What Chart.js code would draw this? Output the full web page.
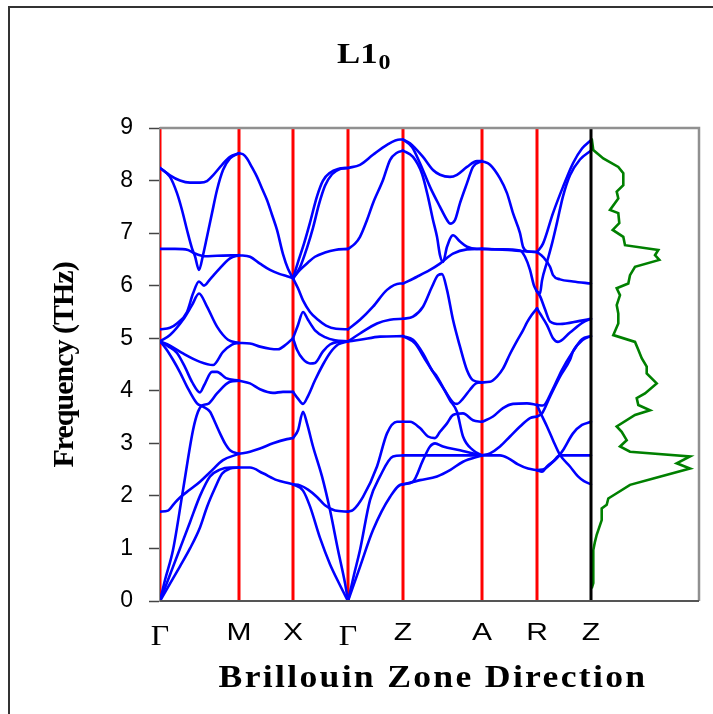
<!DOCTYPE html>
<html>
<head>
<meta charset="utf-8">
<script src="https://cdn.jsdelivr.net/npm/chart.js@4.4.0/dist/chart.umd.min.js"></script>
<style>
  html, body { margin: 0; padding: 0; background: #fff; }
  #wrap { width: 713px; height: 714px; position: relative; }
</style>
</head>
<body>
<div id="wrap"><canvas id="bands"></canvas></div>
<script>
// high-symmetry points along the path (path length units) and their labels
const kPoints = [0, 79, 133, 188, 243, 322, 377, 431];
const kLabels = ["Γ", "M", "X", "Γ", "Z", "A", "R", "Z"];
const kEnd = 539;

// phonon branches, one polyline per branch per segment: [k, THz]
const gammaM = [
  [[0,8.24],[10,8.10],[20,8.0],[30,7.96],[40,7.96],[47,7.99],[53,8.1],[62,8.3],[70,8.45],[79,8.52]],
  [[0,8.24],[10,8.07],[17,7.76],[22,7.44],[27,7.06],[32,6.71],[35,6.56],[39,6.30],[43,6.58],[47,6.93],[52,7.38],[57,7.82],[63,8.2],[70,8.42],[79,8.52]],
  [[0,6.70],[15,6.70],[28,6.68],[34,6.62],[45,6.56],[57,6.57],[79,6.58]],
  [[0,5.17],[10,5.2],[17,5.28],[27,5.5],[33,5.85],[39,6.08],[44,6.0],[50,6.12],[57,6.27],[70,6.52],[79,6.58]],
  [[0,4.94],[10,5.06],[23,5.35],[32,5.63],[39,5.85],[47,5.6],[57,5.22],[68,4.97],[79,4.91]],
  [[0,4.94],[10,4.86],[23,4.71],[40,4.55],[53,4.49],[63,4.74],[72,4.88],[79,4.91]],
  [[0,4.94],[8,4.85],[17,4.72],[25,4.45],[32,4.17],[40,3.97],[44,4.1],[52,4.36],[57,4.36],[66,4.24],[79,4.19]],
  [[0,4.94],[6,4.8],[13,4.59],[20,4.35],[27,4.08],[37,3.76],[43,3.70],[50,3.6],[55,3.4],[60,3.19],[65,3.0],[70,2.87],[79,2.80]],
  [[0,0],[5,0.4],[13,0.97],[23,2.11],[33,3.25],[38,3.6],[42,3.72],[48,3.75],[57,3.95],[70,4.17],[79,4.19]],
  [[0,0],[10,0.5],[20,1.0],[30,1.5],[40,2.0],[50,2.37],[60,2.5],[70,2.54],[79,2.54]],
  [[0,0],[10,0.33],[20,0.66],[30,1.0],[40,1.4],[47,1.79],[55,2.15],[62,2.42],[70,2.52],[79,2.54]],
  [[0,1.70],[8,1.72],[14,1.85],[20,1.97],[30,2.12],[40,2.27],[50,2.45],[63,2.68],[79,2.80]],
];

const mX = [
  [[79,8.52],[83,8.5],[87,8.42],[92,8.25],[97,8.07],[102,7.85],[107,7.63],[112,7.35],[117,7.06],[123,6.6],[128,6.32],[133,6.14]],
  [[79,6.58],[90,6.55],[100,6.42],[110,6.30],[120,6.22],[127,6.18],[133,6.14]],
  [[79,4.91],[90,4.9],[100,4.84],[110,4.8],[118,4.79],[126,4.88],[133,5.0]],
  [[79,4.19],[90,4.14],[100,4.03],[113,3.96],[123,3.98],[133,3.98]],
  [[79,2.80],[90,2.84],[100,2.9],[113,3.0],[127,3.08],[133,3.10]],
  [[79,2.54],[90,2.54],[103,2.43],[117,2.3],[127,2.25],[133,2.22]],
];

const xGamma = [
  [[133,6.14],[138,6.45],[144,6.8],[150,7.2],[157,7.7],[163,8.0],[170,8.15],[178,8.22],[188,8.24]],
  [[133,6.14],[140,6.35],[147,6.72],[153,7.1],[159,7.55],[165,7.9],[172,8.12],[180,8.22],[188,8.24]],
  [[133,6.14],[140,6.3],[148,6.44],[155,6.55],[165,6.63],[175,6.68],[188,6.70]],
  [[133,6.14],[138,5.95],[143,5.72],[150,5.5],[158,5.35],[166,5.24],[176,5.18],[188,5.17]],
  [[133,5.0],[137,4.78],[143,4.6],[150,4.52],[155,4.53],[163,4.75],[170,4.88],[178,4.93],[188,4.94]],
  [[133,5.0],[138,5.25],[143,5.5],[148,5.35],[155,5.15],[165,5.02],[175,4.96],[188,4.94]],
  [[133,3.98],[138,3.85],[143,3.75],[148,3.9],[155,4.2],[163,4.5],[170,4.72],[178,4.88],[188,4.94]],
  [[133,3.10],[138,3.25],[143,3.6],[147,3.38],[153,2.94],[162,2.37],[170,1.73],[178,0.97],[185,0.34],[188,0]],
  [[133,2.22],[140,2.2],[148,2.12],[157,1.98],[165,1.82],[175,1.72],[188,1.70]],
  [[133,2.22],[143,2.1],[150,1.8],[160,1.2],[170,0.7],[180,0.3],[188,0]],
];

const gammaZ = [
  [[188,8.24],[200,8.30],[213,8.49],[227,8.68],[240,8.78],[243,8.78]],
  [[188,6.70],[195,6.8],[200,6.93],[207,7.25],[213,7.57],[223,8.01],[230,8.39],[237,8.53],[243,8.57]],
  [[188,5.17],[200,5.35],[213,5.6],[227,5.92],[240,6.04],[243,6.04]],
  [[188,4.94],[200,5.09],[217,5.28],[230,5.35],[243,5.37]],
  [[188,4.94],[200,4.97],[220,5.03],[243,5.04]],
  [[188,1.70],[193,1.73],[203,1.98],[217,2.56],[227,3.19],[237,3.41],[243,3.41]],
  [[188,0],[194,0.5],[200,0.97],[210,1.92],[220,2.37],[233,2.75],[243,2.77]],
  [[188,0],[200,0.65],[213,1.35],[230,1.98],[242,2.22],[243,2.22]],
];

const zA = [
  [[243,8.78],[250,8.71],[263,8.45],[273,8.2],[280,8.11],[290,8.07],[297,8.11],[307,8.26],[317,8.37],[322,8.37]],
  [[243,8.78],[252,8.64],[260,8.33],[270,7.88],[280,7.5],[287,7.25],[290,7.18],[295,7.25],[300,7.57],[307,7.95],[313,8.26],[322,8.37]],
  [[243,8.57],[253,8.45],[262,8.13],[268,7.69],[273,7.25],[277,6.93],[280,6.58],[283,6.45],[287,6.74],[293,6.96],[300,6.84],[307,6.74],[317,6.70],[322,6.70]],
  [[243,6.04],[257,6.17],[270,6.30],[280,6.42],[293,6.61],[307,6.69],[322,6.70]],
  [[243,5.37],[253,5.41],[263,5.6],[272,5.98],[278,6.2],[282,6.22],[287,5.92],[293,5.35],[300,4.84],[307,4.39],[313,4.2],[322,4.16]],
  [[243,5.04],[253,4.97],[263,4.71],[272,4.39],[277,4.27],[290,3.82],[297,3.6],[303,3.13],[313,2.87],[322,2.77]],
  [[243,5.04],[255,4.9],[265,4.6],[275,4.3],[285,4.0],[293,3.78],[297,3.75],[303,3.85],[310,4.02],[316,4.14],[322,4.16]],
  [[243,3.41],[250,3.41],[260,3.29],[268,3.13],[275,3.10],[280,3.22],[287,3.38],[293,3.54],[303,3.57],[313,3.44],[322,3.41]],
  [[243,2.77],[283,2.77],[322,2.77]],
  [[243,2.22],[253,2.27],[263,2.68],[270,2.94],[275,3.0],[283,2.94],[300,2.87],[322,2.77]],
  [[243,2.22],[260,2.3],[277,2.37],[290,2.49],[303,2.65],[322,2.77]],
];

const aR = [
  [[322,8.37],[330,8.3],[340,8.04],[347,7.76],[353,7.38],[360,7.0],[363,6.74],[368,6.65],[377,6.64]],
  [[322,6.70],[340,6.69],[360,6.66],[377,6.64]],
  [[322,6.70],[340,6.69],[360,6.67],[365,6.55],[370,6.3],[374,6.0],[377,5.89]],
  [[322,4.16],[330,4.17],[337,4.27],[343,4.42],[350,4.7],[357,4.95],[363,5.15],[367,5.3],[372,5.45],[377,5.57]],
  [[322,3.41],[333,3.51],[343,3.67],[353,3.75],[367,3.76],[377,3.73]],
  [[322,2.77],[330,2.81],[340,2.94],[350,3.13],[360,3.32],[370,3.48],[377,3.51]],
  [[322,2.77],[340,2.77],[348,2.72],[358,2.6],[368,2.52],[377,2.49]],
];

const rZ = [
  [[377,6.64],[383,6.8],[393,7.38],[403,7.88],[413,8.33],[422,8.61],[431,8.77]],
  [[377,5.89],[380,5.85],[382,6.1],[387,6.45],[392,6.8],[397,7.2],[403,7.7],[410,8.1],[420,8.4],[431,8.57]],
  [[377,6.64],[383,6.55],[390,6.36],[393,6.2],[400,6.12],[413,6.08],[431,6.04]],
  [[377,5.57],[380,5.47],[387,5.25],[393,5.0],[398,4.93],[410,5.11],[423,5.3],[431,5.37]],
  [[377,5.89],[380,5.8],[385,5.55],[390,5.32],[400,5.27],[420,5.33],[431,5.37]],
  [[377,3.73],[380,3.6],[387,3.32],[393,3.06],[400,2.78],[410,2.56],[418,2.37],[424,2.28],[431,2.22]],
  [[377,3.51],[382,3.57],[390,3.89],[400,4.27],[410,4.59],[413,4.75],[423,4.97],[431,5.04]],
  [[377,3.73],[383,3.72],[392,4.0],[402,4.4],[412,4.72],[422,4.98],[431,5.04]],
  [[377,2.49],[382,2.46],[387,2.56],[397,2.72],[403,2.87],[413,3.19],[422,3.35],[431,3.41]],
  [[377,2.49],[385,2.52],[393,2.65],[400,2.77],[431,2.77]],
];

// phonon density of states, traced top to bottom
const dosFreq = [8.80, 8.58, 8.42, 8.26, 8.14, 7.91, 7.79, 7.66, 7.44, 7.38, 7.19, 7.06, 6.93, 6.77,
  6.68, 6.58, 6.49, 6.36, 6.20, 6.04, 5.95, 5.82, 5.63, 5.47, 5.28, 5.06, 4.93, 4.78, 4.62,
  4.46, 4.33, 4.14, 3.95, 3.86, 3.73, 3.63, 3.54, 3.32, 3.22, 3.06, 2.94, 2.84, 2.75, 2.62,
  2.52, 2.33, 2.21, 2.05, 1.95, 1.83, 1.76, 1.54, 1.35, 1.26, 1.13, 0.97, 0.34, 0.24];
const dosVal = [0.7, 2.3, 12.3, 27.3, 32.3, 32.3, 25.7, 27.3, 19, 27.3, 28.3, 21.7, 32.3, 34,
  67.3, 64, 68.3, 44, 39, 37.3, 25.7, 29, 25.7, 27.3, 27.3, 22.3, 44, 47.3, 50.7,
  55.7, 55.7, 65.7, 54, 45.7, 47.3, 59, 44, 25.7, 30.7, 35.7, 29, 39, 99, 85.7,
  99, 62.3, 39, 25.7, 17.3, 15.7, 10.7, 10.7, 7.3, 5.7, 4, 2.3, 2.3, 0.7];

const byId = (id) => document.getElementById(id);

const branchSet = (pts) => ({
  data: pts.map(([k, f]) => ({ x: k, y: f })),
  borderColor: "#0000ff",
  borderWidth: 2.6,
  pointRadius: 0,
  cubicInterpolationMode: "monotone",
  borderCapStyle: "round",
  borderJoinStyle: "round",
  order: 2,
});

const symLine = (k, color, width, order) => ({
  data: [{ x: k, y: 0 }, { x: k, y: 9 }],
  borderColor: color,
  borderWidth: width,
  pointRadius: 0,
  order,
});

const datasets = [];
kPoints.slice(0, -1).forEach((k) => datasets.push(symLine(k, "#ff0000", 3, 3)));
[gammaM, mX, xGamma, gammaZ, zA, aR, rZ].forEach((seg) =>
  seg.forEach((pts) => datasets.push(branchSet(pts)))
);
datasets.push({
  data: dosFreq.map((f, i) => ({ x: dosVal[i], y: f })),
  xAxisID: "xd",
  borderColor: "#008000",
  borderWidth: 2.6,
  pointRadius: 0,
  tension: 0,
  order: 1,
});
datasets.push(symLine(kPoints[kPoints.length - 1], "#000000", 3, 0));

// text drawn wider than the font's natural width, like the original figure
const wideText = (ctx, text, x, y, sx) => {
  ctx.save();
  ctx.translate(x, y);
  ctx.scale(sx, 1);
  ctx.fillText(text, 0, 0);
  ctx.restore();
};

const decor = {
  id: "decor",
  afterDatasetsDraw(chart) {
    const { ctx, chartArea: a } = chart;
    ctx.save();
    // plot frame
    ctx.strokeStyle = "#909090";
    ctx.lineWidth = 2.5;
    ctx.beginPath();
    ctx.moveTo(a.left, a.top);
    ctx.lineTo(a.right, a.top);
    ctx.lineTo(a.right, a.bottom);
    ctx.stroke();
    ctx.strokeStyle = "#555";
    ctx.lineWidth = 2;
    ctx.beginPath();
    ctx.moveTo(a.left, a.bottom);
    ctx.lineTo(a.right, a.bottom);
    ctx.stroke();
    ctx.restore();
  },
  afterDraw(chart) {
    const { ctx } = chart;
    const xs = chart.scales.x;
    ctx.save();
    // outer frame
    ctx.strokeStyle = "#333";
    ctx.lineWidth = 2;
    ctx.beginPath();
    ctx.moveTo(9, 714);
    ctx.lineTo(9, 7);
    ctx.lineTo(713, 7);
    ctx.stroke();

    ctx.fillStyle = "#000";
    ctx.textBaseline = "middle";
    ctx.textAlign = "center";
    kLabels.forEach((lab, i) => {
      const px = xs.getPixelForValue(kPoints[i]);
      if (lab === "Γ") {
        ctx.font = "29px 'Liberation Serif'";
        wideText(ctx, lab, px, 637, 1.1);
      } else {
        ctx.font = "24px 'Liberation Sans'";
        wideText(ctx, lab, px, 633, 1.25);
      }
    });

    // title L1_0
    ctx.textAlign = "left";
    ctx.textBaseline = "alphabetic";
    ctx.font = "bold 29px 'Liberation Serif'";
    wideText(ctx, "L1", 337, 63, 1.2);
    const w = ctx.measureText("L1").width * 1.2;
    ctx.font = "bold 20px 'Liberation Serif'";
    wideText(ctx, "0", 337 + w + 1, 69, 1.2);

    // axis titles
    ctx.textAlign = "center";
    ctx.textBaseline = "middle";
    ctx.font = "bold 31px 'Liberation Serif'";
    ctx.letterSpacing = "2px";
    wideText(ctx, "Brillouin Zone Direction", 433, 679, 1.15);
    ctx.translate(65, 365);
    ctx.rotate(-Math.PI / 2);
    ctx.font = "bold 30px 'Liberation Serif'";
    ctx.letterSpacing = "-1px";
    ctx.fillText("Frequency (THz)", 0, 0);
    ctx.restore();
  },
};

new Chart(byId("bands"), {
  type: "line",
  data: { datasets },
  options: {
    responsive: true,
    maintainAspectRatio: false,
    animation: false,
    devicePixelRatio: 1,
    layout: { padding: { top: 128, right: 14, bottom: 113, left: 0 } },
    plugins: { legend: { display: false }, tooltip: { enabled: false } },
    scales: {
      x: { type: "linear", min: 0, max: kEnd, display: false },
      xd: { type: "linear", axis: "x", min: -kPoints[kPoints.length - 1], max: kEnd - kPoints[kPoints.length - 1], display: false },
      y: {
        type: "linear",
        min: 0,
        max: 9,
        ticks: { stepSize: 1, color: "#000", padding: 16, font: { family: "'Liberation Sans'", size: 23 } },
        grid: { drawOnChartArea: false, drawTicks: true, tickLength: 11, tickColor: "#444", tickWidth: 1.5 },
        border: { display: true, color: "#888", width: 2 },
        afterFit: (s) => { s.width = 160; },
      },
    },
  },
  plugins: [decor],
});
</script>
</body>
</html>
